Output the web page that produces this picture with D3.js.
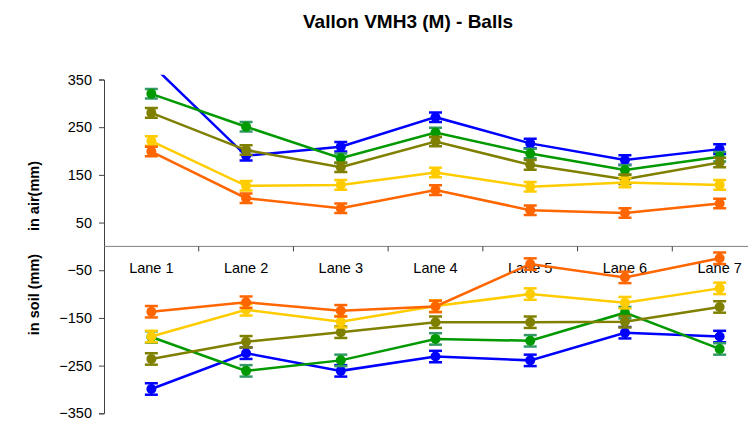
<!DOCTYPE html>
<html><head><meta charset="utf-8">
<script src="https://cdn.jsdelivr.net/npm/d3@7"></script>
<style>
body{margin:0;background:#fff;}
svg{display:block;font-family:"Liberation Sans",Arial,sans-serif;}
</style></head>
<body><svg id="c" width="753" height="423"></svg>
<script>
const lanes = ["Lane 1","Lane 2","Lane 3","Lane 4","Lane 5","Lane 6","Lane 7"];
const yTicks = [350,250,150,50,-50,-150,-250,-350];
const seriesNames = ["blue","green","olive","yellow","orange"];
const colors = ["#0000FF","#009900","#808000","#FFCC00","#FF6600"];
const capColors = ["#0000FF","#339966","#808000","#FFCC00","#FF6600"];
// in air (mm)
const airBlue   = [382,190,209,271,216,181,204];
const airGreen  = [320,251,185,239,195,160,188];
const airOlive  = [280,202,166,220,171,141,176];
const airYellow = [221,127,129,155,125,134,129];
const airOrange = [199,101,80,118,76,70,90];
// in soil (mm)
const soilBlue   = [-299,-224,-261,-231,-239,-181,-189];
const soilGreen  = [-190,-261,-239,-194,-198,-139,-215];
const soilOlive  = [-236,-200,-180,-159,-159,-158,-127];
const soilYellow = [-189,-133,-158,-125,-100,-118,-88];
const soilOrange = [-137,-117,-135,-126,-37,-65,-25];
const errAir  = [10,10,10,10,10,10,10];
const errSoil = [12,12,12,12,12,12,12];

const air = [airBlue,airGreen,airOlive,airYellow,airOrange];
const soil = [soilBlue,soilGreen,soilOlive,soilYellow,soilOrange];

const FONT = "'Liberation Sans',Arial,sans-serif";
const svg = d3.select("#c");
const x = d3.scaleBand().domain(lanes).range([104, 767]).padding(0);
const cx = d => x(d) + x.bandwidth()/2;
const y = d3.scaleLinear().domain([-350,350]).range([413.3,79.5]);

// title
svg.append("text").attr("x",408).attr("y",28).attr("text-anchor","middle")
  .attr("font-size",19).attr("font-weight","bold").text("Vallon VMH3 (M) - Balls");

// axis titles
svg.append("text").attr("transform",`translate(39,196) rotate(-90)`).attr("text-anchor","middle")
  .attr("font-size",14.5).attr("font-weight","bold").text("in air(mm)");
svg.append("text").attr("transform",`translate(39,294.5) rotate(-90)`).attr("text-anchor","middle")
  .attr("font-size",14.5).attr("font-weight","bold").text("in soil (mm)");

// y axis
const yAxis = d3.axisLeft(y).tickValues(yTicks).tickSize(5).tickPadding(7).tickFormat(d3.format("d"));
const ya = svg.append("g").attr("transform","translate(104,0)").call(yAxis);
ya.select(".domain").attr("stroke","#404040");
ya.selectAll(".tick line").attr("stroke","#404040");
ya.selectAll(".tick text").attr("font-size",14.5).attr("fill","#000").attr("font-family",FONT);

// x axis at zero
const xAxis = d3.axisBottom(x).tickValues(lanes).tickSize(0).tickFormat("");
const xa = svg.append("g").attr("transform",`translate(0,${y(0)})`).call(xAxis);
xa.select(".domain").attr("stroke","#808080").attr("d",`M104,0H748`);
xa.selectAll(".tick").remove();
// category boundary ticks
svg.append("g").selectAll("line").data(lanes.slice(1)).join("line")
  .attr("x1",d=>x(d)).attr("x2",d=>x(d)).attr("y1",y(0)).attr("y2",y(0)+5)
  .attr("stroke","#404040");
// lane labels
svg.append("g").selectAll("text").data(lanes).join("text")
  .attr("x",d=>cx(d)).attr("y",y(0)+27).attr("text-anchor","middle")
  .attr("font-size",14.5).text(d=>d);

// clip
svg.append("defs").append("clipPath").attr("id","clip").append("rect")
  .attr("x",104).attr("y",y(360)).attr("width",660).attr("height",y(-360)-y(360));

const plot = svg.append("g").attr("clip-path","url(#clip)");
const line = d3.line().x((d,i)=>cx(lanes[i])).y(d=>y(d));

function drawGroup(data, err){
  data.forEach((vals,si)=>{
    const g = plot.append("g");
    g.append("path").datum(vals).attr("d",line).attr("fill","none")
      .attr("stroke",colors[si]).attr("stroke-width",2.5);
    vals.forEach((v,i)=>{
      const px = cx(lanes[i]);
      g.append("line").attr("x1",px).attr("x2",px).attr("y1",y(v+err[i])).attr("y2",y(v-err[i]))
        .attr("stroke",capColors[si]).attr("stroke-width",2.5);
      [v+err[i], v-err[i]].forEach(e=>{
        g.append("line").attr("x1",px-6.5).attr("x2",px+6.5).attr("y1",y(e)).attr("y2",y(e))
          .attr("stroke",capColors[si]).attr("stroke-width",2.5);
      });
      g.append("circle").attr("cx",px).attr("cy",y(v)).attr("r",5).attr("fill",colors[si]);
    });
  });
}
drawGroup(air, errAir);
drawGroup(soil, errSoil);
</script></body></html>
